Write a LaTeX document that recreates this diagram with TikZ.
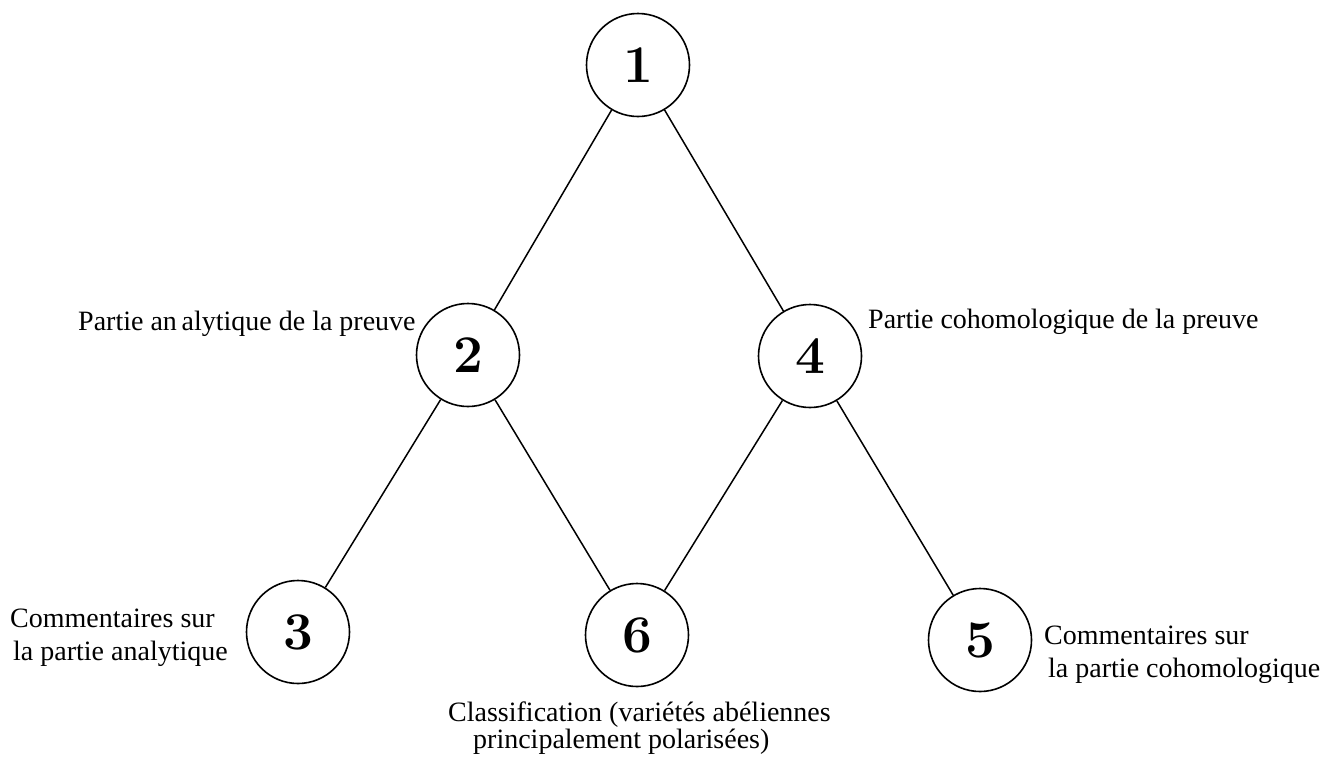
\documentclass[tikz,border=0pt]{standalone}
\usepackage{fontspec}
\setmainfont{Liberation Serif}
\newfontfamily\digitfont{Latin Modern Roman}
\begin{document}
\begin{tikzpicture}[x=1pt,y=-1pt,
  numnode/.style={circle,draw,line width=1.6pt,minimum size=103pt,inner sep=0pt,
    font=\digitfont\bfseries\fontsize{53}{53}\selectfont},
  lbl/.style={inner sep=0pt,align=left,anchor=base west,
    font=\fontsize{28}{33}\selectfont},
  edge/.style={line width=1.5pt}]
\useasboundingbox (0,0) rectangle (1335,758);
\node[numnode] (n1) at (638,65) {1};
\node[numnode] (n2) at (468,355) {2};
\node[numnode] (n4) at (810,356) {4};
\node[numnode] (n3) at (298,632) {3};
\node[numnode] (n6) at (637,635) {6};
\node[numnode] (n5) at (980,640) {5};
\draw[edge] (n1) -- (n2);
\draw[edge] (n1) -- (n4);
\draw[edge] (n2) -- (n3);
\draw[edge] (n2) -- (n6);
\draw[edge] (n4) -- (n6);
\draw[edge] (n4) -- (n5);
\node[lbl] (t2) at (78,330) {Partie an\,alytique de la preuve};
\node[lbl] (t4) at (868,328) {Partie cohomologique de la preuve};
\node[lbl] (t3) at (10,660) {Commentaires sur\\\hspace*{3pt}la partie analytique};
\node[lbl] (t5) at (1044,677) {Commentaires sur\\\hspace*{4pt}la partie cohomologique};
\node[lbl,font=\fontsize{28}{27}\selectfont] (t6) at (448,748) {Classification (variétés abéliennes\\\hspace*{25pt}principalement polarisées)};
\end{tikzpicture}
\end{document}
